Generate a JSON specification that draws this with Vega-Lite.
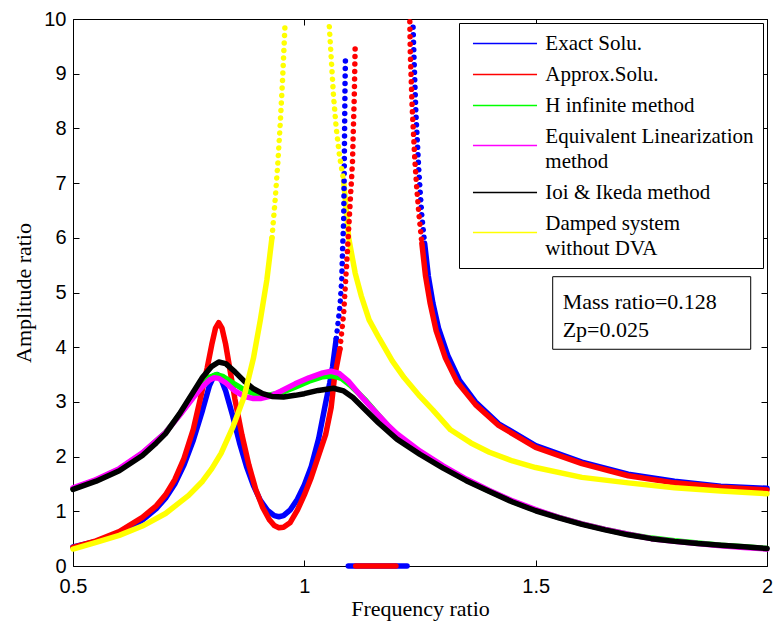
{
  "$schema": "https://vega.github.io/schema/vega-lite/v6.json",
  "width": 694,
  "height": 547,
  "autosize": "none",
  "padding": {"left": 73, "top": 19, "right": 6, "bottom": 61},
  "background": "white",
  "config": {
    "view": {"stroke": "black", "strokeWidth": 1},
    "axis": {
      "domain": false, "grid": false, "ticks": true, "tickColor": "black", "tickSize": -6, "tickWidth": 1,
      "labelFont": "Liberation Sans", "labelFontSize": 20, "labelColor": "black",
      "titleFont": "Liberation Serif", "titleFontSize": 22, "titleFontWeight": "normal", "titleColor": "black",
      "labelOverlap": false, "labelFlush": false, "labelBound": false
    }
  },
  "datasets": {
    "curves": [
      {"s":"Exact Solu.","p":"a","x":0.5,"y":0.35},{"s":"Exact Solu.","p":"a","x":0.55,"y":0.45},{"s":"Exact Solu.","p":"a","x":0.6,"y":0.6},{"s":"Exact Solu.","p":"a","x":0.65,"y":0.84},{"s":"Exact Solu.","p":"a","x":0.68,"y":1.05},{"s":"Exact Solu.","p":"a","x":0.7,"y":1.24},{"s":"Exact Solu.","p":"a","x":0.72,"y":1.5},{"s":"Exact Solu.","p":"a","x":0.74,"y":1.85},{"s":"Exact Solu.","p":"a","x":0.76,"y":2.3},{"s":"Exact Solu.","p":"a","x":0.78,"y":2.85},{"s":"Exact Solu.","p":"a","x":0.795,"y":3.3},{"s":"Exact Solu.","p":"a","x":0.805,"y":3.48},{"s":"Exact Solu.","p":"a","x":0.812,"y":3.5},{"s":"Exact Solu.","p":"a","x":0.82,"y":3.42},{"s":"Exact Solu.","p":"a","x":0.83,"y":3.2},{"s":"Exact Solu.","p":"a","x":0.845,"y":2.75},{"s":"Exact Solu.","p":"a","x":0.86,"y":2.25},{"s":"Exact Solu.","p":"a","x":0.875,"y":1.82},{"s":"Exact Solu.","p":"a","x":0.89,"y":1.47},{"s":"Exact Solu.","p":"a","x":0.905,"y":1.2},{"s":"Exact Solu.","p":"a","x":0.92,"y":1.02},{"s":"Exact Solu.","p":"a","x":0.935,"y":0.92},{"s":"Exact Solu.","p":"a","x":0.945,"y":0.9},{"s":"Exact Solu.","p":"a","x":0.955,"y":0.92},{"s":"Exact Solu.","p":"a","x":0.969,"y":1.02},{"s":"Exact Solu.","p":"a","x":0.985,"y":1.22},{"s":"Exact Solu.","p":"a","x":1.0,"y":1.48},{"s":"Exact Solu.","p":"a","x":1.015,"y":1.82},{"s":"Exact Solu.","p":"a","x":1.031,"y":2.33},{"s":"Exact Solu.","p":"a","x":1.046,"y":2.98},{"s":"Exact Solu.","p":"a","x":1.055,"y":3.35},{"s":"Exact Solu.","p":"a","x":1.061,"y":3.64},{"s":"Exact Solu.","p":"a","x":1.069,"y":4.16},
      {"s":"Exact Solu.","p":"b","x":1.069,"y":4.16},{"s":"Exact Solu.","p":"b","x":1.077,"y":4.75},{"s":"Exact Solu.","p":"b","x":1.081,"y":5.27},{"s":"Exact Solu.","p":"b","x":1.083,"y":5.86},{"s":"Exact Solu.","p":"b","x":1.085,"y":6.3},{"s":"Exact Solu.","p":"b","x":1.086,"y":7.0},{"s":"Exact Solu.","p":"b","x":1.087,"y":7.95},{"s":"Exact Solu.","p":"b","x":1.088,"y":8.83},{"s":"Exact Solu.","p":"b","x":1.089,"y":9.35},
      {"s":"Exact Solu.","p":"c","x":1.095,"y":0},{"s":"Exact Solu.","p":"c","x":1.222,"y":0},
      {"s":"Exact Solu.","p":"d","x":1.235,"y":9.85},{"s":"Exact Solu.","p":"d","x":1.237,"y":9.3},{"s":"Exact Solu.","p":"d","x":1.239,"y":8.8},{"s":"Exact Solu.","p":"d","x":1.241,"y":8.3},{"s":"Exact Solu.","p":"d","x":1.244,"y":7.8},{"s":"Exact Solu.","p":"d","x":1.247,"y":7.3},{"s":"Exact Solu.","p":"d","x":1.25,"y":6.9},{"s":"Exact Solu.","p":"d","x":1.254,"y":6.4},{"s":"Exact Solu.","p":"d","x":1.26,"y":5.9},
      {"s":"Exact Solu.","p":"e","x":1.26,"y":5.9},{"s":"Exact Solu.","p":"e","x":1.268,"y":5.3},{"s":"Exact Solu.","p":"e","x":1.278,"y":4.8},{"s":"Exact Solu.","p":"e","x":1.29,"y":4.35},{"s":"Exact Solu.","p":"e","x":1.31,"y":3.85},{"s":"Exact Solu.","p":"e","x":1.335,"y":3.4},{"s":"Exact Solu.","p":"e","x":1.37,"y":3.0},{"s":"Exact Solu.","p":"e","x":1.42,"y":2.6},{"s":"Exact Solu.","p":"e","x":1.5,"y":2.2},{"s":"Exact Solu.","p":"e","x":1.6,"y":1.9},{"s":"Exact Solu.","p":"e","x":1.7,"y":1.68},{"s":"Exact Solu.","p":"e","x":1.8,"y":1.55},{"s":"Exact Solu.","p":"e","x":1.9,"y":1.46},{"s":"Exact Solu.","p":"e","x":2.0,"y":1.42},

      {"s":"Approx.Solu.","p":"a","x":0.5,"y":0.34},{"s":"Approx.Solu.","p":"a","x":0.55,"y":0.46},{"s":"Approx.Solu.","p":"a","x":0.6,"y":0.63},{"s":"Approx.Solu.","p":"a","x":0.65,"y":0.89},{"s":"Approx.Solu.","p":"a","x":0.68,"y":1.1},{"s":"Approx.Solu.","p":"a","x":0.7,"y":1.3},{"s":"Approx.Solu.","p":"a","x":0.72,"y":1.58},{"s":"Approx.Solu.","p":"a","x":0.74,"y":1.97},{"s":"Approx.Solu.","p":"a","x":0.76,"y":2.5},{"s":"Approx.Solu.","p":"a","x":0.775,"y":3.05},{"s":"Approx.Solu.","p":"a","x":0.79,"y":3.62},{"s":"Approx.Solu.","p":"a","x":0.8,"y":4.05},{"s":"Approx.Solu.","p":"a","x":0.808,"y":4.35},{"s":"Approx.Solu.","p":"a","x":0.815,"y":4.45},{"s":"Approx.Solu.","p":"a","x":0.822,"y":4.35},{"s":"Approx.Solu.","p":"a","x":0.83,"y":4.05},{"s":"Approx.Solu.","p":"a","x":0.84,"y":3.55},{"s":"Approx.Solu.","p":"a","x":0.85,"y":3.05},{"s":"Approx.Solu.","p":"a","x":0.865,"y":2.4},{"s":"Approx.Solu.","p":"a","x":0.88,"y":1.85},{"s":"Approx.Solu.","p":"a","x":0.895,"y":1.4},{"s":"Approx.Solu.","p":"a","x":0.91,"y":1.07},{"s":"Approx.Solu.","p":"a","x":0.925,"y":0.84},{"s":"Approx.Solu.","p":"a","x":0.935,"y":0.74},{"s":"Approx.Solu.","p":"a","x":0.945,"y":0.7},{"s":"Approx.Solu.","p":"a","x":0.955,"y":0.71},{"s":"Approx.Solu.","p":"a","x":0.969,"y":0.79},{"s":"Approx.Solu.","p":"a","x":0.985,"y":1.02},{"s":"Approx.Solu.","p":"a","x":1.0,"y":1.3},{"s":"Approx.Solu.","p":"a","x":1.015,"y":1.62},{"s":"Approx.Solu.","p":"a","x":1.03,"y":2.0},{"s":"Approx.Solu.","p":"a","x":1.046,"y":2.4},{"s":"Approx.Solu.","p":"a","x":1.058,"y":2.9},{"s":"Approx.Solu.","p":"a","x":1.065,"y":3.44},{"s":"Approx.Solu.","p":"a","x":1.077,"y":3.97},
      {"s":"Approx.Solu.","p":"b","x":1.077,"y":3.97},{"s":"Approx.Solu.","p":"b","x":1.085,"y":4.61},{"s":"Approx.Solu.","p":"b","x":1.092,"y":5.59},{"s":"Approx.Solu.","p":"b","x":1.099,"y":6.64},{"s":"Approx.Solu.","p":"b","x":1.104,"y":7.36},{"s":"Approx.Solu.","p":"b","x":1.106,"y":8.0},{"s":"Approx.Solu.","p":"b","x":1.108,"y":8.6},{"s":"Approx.Solu.","p":"b","x":1.109,"y":9.09},{"s":"Approx.Solu.","p":"b","x":1.11,"y":9.56},
      {"s":"Approx.Solu.","p":"c","x":1.111,"y":0},{"s":"Approx.Solu.","p":"c","x":1.198,"y":0},
      {"s":"Approx.Solu.","p":"d","x":1.228,"y":9.95},{"s":"Approx.Solu.","p":"d","x":1.229,"y":9.4},{"s":"Approx.Solu.","p":"d","x":1.231,"y":8.9},{"s":"Approx.Solu.","p":"d","x":1.233,"y":8.4},{"s":"Approx.Solu.","p":"d","x":1.236,"y":7.9},{"s":"Approx.Solu.","p":"d","x":1.239,"y":7.4},{"s":"Approx.Solu.","p":"d","x":1.243,"y":6.9},{"s":"Approx.Solu.","p":"d","x":1.248,"y":6.4},{"s":"Approx.Solu.","p":"d","x":1.254,"y":5.9},
      {"s":"Approx.Solu.","p":"e","x":1.254,"y":5.9},{"s":"Approx.Solu.","p":"e","x":1.262,"y":5.3},{"s":"Approx.Solu.","p":"e","x":1.272,"y":4.8},{"s":"Approx.Solu.","p":"e","x":1.285,"y":4.3},{"s":"Approx.Solu.","p":"e","x":1.305,"y":3.8},{"s":"Approx.Solu.","p":"e","x":1.33,"y":3.37},{"s":"Approx.Solu.","p":"e","x":1.37,"y":2.95},{"s":"Approx.Solu.","p":"e","x":1.42,"y":2.57},{"s":"Approx.Solu.","p":"e","x":1.5,"y":2.17},{"s":"Approx.Solu.","p":"e","x":1.6,"y":1.87},{"s":"Approx.Solu.","p":"e","x":1.7,"y":1.65},{"s":"Approx.Solu.","p":"e","x":1.8,"y":1.52},{"s":"Approx.Solu.","p":"e","x":1.9,"y":1.44},{"s":"Approx.Solu.","p":"e","x":2.0,"y":1.39},

      {"s":"H infinite method","p":"a","x":0.5,"y":1.41},{"s":"H infinite method","p":"a","x":0.55,"y":1.57},{"s":"H infinite method","p":"a","x":0.6,"y":1.77},{"s":"H infinite method","p":"a","x":0.65,"y":2.06},{"s":"H infinite method","p":"a","x":0.7,"y":2.44},{"s":"H infinite method","p":"a","x":0.73,"y":2.76},{"s":"H infinite method","p":"a","x":0.76,"y":3.1},{"s":"H infinite method","p":"a","x":0.78,"y":3.31},{"s":"H infinite method","p":"a","x":0.795,"y":3.45},{"s":"H infinite method","p":"a","x":0.81,"y":3.5},{"s":"H infinite method","p":"a","x":0.825,"y":3.46},{"s":"H infinite method","p":"a","x":0.845,"y":3.35},{"s":"H infinite method","p":"a","x":0.87,"y":3.22},{"s":"H infinite method","p":"a","x":0.895,"y":3.14},{"s":"H infinite method","p":"a","x":0.92,"y":3.12},{"s":"H infinite method","p":"a","x":0.95,"y":3.17},{"s":"H infinite method","p":"a","x":0.98,"y":3.27},{"s":"H infinite method","p":"a","x":1.01,"y":3.38},{"s":"H infinite method","p":"a","x":1.04,"y":3.46},{"s":"H infinite method","p":"a","x":1.06,"y":3.48},{"s":"H infinite method","p":"a","x":1.08,"y":3.43},{"s":"H infinite method","p":"a","x":1.1,"y":3.3},{"s":"H infinite method","p":"a","x":1.13,"y":3.05},{"s":"H infinite method","p":"a","x":1.16,"y":2.76},{"s":"H infinite method","p":"a","x":1.2,"y":2.38},{"s":"H infinite method","p":"a","x":1.25,"y":2.07},{"s":"H infinite method","p":"a","x":1.3,"y":1.81},{"s":"H infinite method","p":"a","x":1.35,"y":1.57},{"s":"H infinite method","p":"a","x":1.4,"y":1.37},{"s":"H infinite method","p":"a","x":1.45,"y":1.18},{"s":"H infinite method","p":"a","x":1.5,"y":1.02},{"s":"H infinite method","p":"a","x":1.55,"y":0.89},{"s":"H infinite method","p":"a","x":1.6,"y":0.77},{"s":"H infinite method","p":"a","x":1.65,"y":0.67},{"s":"H infinite method","p":"a","x":1.7,"y":0.58},{"s":"H infinite method","p":"a","x":1.75,"y":0.51},{"s":"H infinite method","p":"a","x":1.8,"y":0.46},{"s":"H infinite method","p":"a","x":1.85,"y":0.42},{"s":"H infinite method","p":"a","x":1.9,"y":0.38},{"s":"H infinite method","p":"a","x":1.95,"y":0.35},{"s":"H infinite method","p":"a","x":2.0,"y":0.32},

      {"s":"Equivalent Linearization method","p":"a","x":0.5,"y":1.43},{"s":"Equivalent Linearization method","p":"a","x":0.55,"y":1.58},{"s":"Equivalent Linearization method","p":"a","x":0.6,"y":1.78},{"s":"Equivalent Linearization method","p":"a","x":0.65,"y":2.07},{"s":"Equivalent Linearization method","p":"a","x":0.7,"y":2.44},{"s":"Equivalent Linearization method","p":"a","x":0.73,"y":2.75},{"s":"Equivalent Linearization method","p":"a","x":0.76,"y":3.08},{"s":"Equivalent Linearization method","p":"a","x":0.78,"y":3.28},{"s":"Equivalent Linearization method","p":"a","x":0.795,"y":3.4},{"s":"Equivalent Linearization method","p":"a","x":0.805,"y":3.44},{"s":"Equivalent Linearization method","p":"a","x":0.815,"y":3.43},{"s":"Equivalent Linearization method","p":"a","x":0.83,"y":3.35},{"s":"Equivalent Linearization method","p":"a","x":0.85,"y":3.2},{"s":"Equivalent Linearization method","p":"a","x":0.87,"y":3.1},{"s":"Equivalent Linearization method","p":"a","x":0.89,"y":3.06},{"s":"Equivalent Linearization method","p":"a","x":0.905,"y":3.06},{"s":"Equivalent Linearization method","p":"a","x":0.925,"y":3.1},{"s":"Equivalent Linearization method","p":"a","x":0.95,"y":3.2},{"s":"Equivalent Linearization method","p":"a","x":0.98,"y":3.33},{"s":"Equivalent Linearization method","p":"a","x":1.01,"y":3.44},{"s":"Equivalent Linearization method","p":"a","x":1.04,"y":3.53},{"s":"Equivalent Linearization method","p":"a","x":1.058,"y":3.56},{"s":"Equivalent Linearization method","p":"a","x":1.075,"y":3.52},{"s":"Equivalent Linearization method","p":"a","x":1.095,"y":3.38},{"s":"Equivalent Linearization method","p":"a","x":1.12,"y":3.13},{"s":"Equivalent Linearization method","p":"a","x":1.15,"y":2.85},{"s":"Equivalent Linearization method","p":"a","x":1.18,"y":2.58},{"s":"Equivalent Linearization method","p":"a","x":1.2,"y":2.42},{"s":"Equivalent Linearization method","p":"a","x":1.25,"y":2.1},{"s":"Equivalent Linearization method","p":"a","x":1.3,"y":1.83},{"s":"Equivalent Linearization method","p":"a","x":1.35,"y":1.59},{"s":"Equivalent Linearization method","p":"a","x":1.4,"y":1.38},{"s":"Equivalent Linearization method","p":"a","x":1.45,"y":1.19},{"s":"Equivalent Linearization method","p":"a","x":1.5,"y":1.03},{"s":"Equivalent Linearization method","p":"a","x":1.55,"y":0.89},{"s":"Equivalent Linearization method","p":"a","x":1.6,"y":0.77},{"s":"Equivalent Linearization method","p":"a","x":1.65,"y":0.67},{"s":"Equivalent Linearization method","p":"a","x":1.7,"y":0.58},{"s":"Equivalent Linearization method","p":"a","x":1.75,"y":0.5},{"s":"Equivalent Linearization method","p":"a","x":1.8,"y":0.45},{"s":"Equivalent Linearization method","p":"a","x":1.85,"y":0.41},{"s":"Equivalent Linearization method","p":"a","x":1.9,"y":0.37},{"s":"Equivalent Linearization method","p":"a","x":1.95,"y":0.34},{"s":"Equivalent Linearization method","p":"a","x":2.0,"y":0.31},

      {"s":"Ioi & Ikeda method","p":"a","x":0.5,"y":1.4},{"s":"Ioi & Ikeda method","p":"a","x":0.55,"y":1.55},{"s":"Ioi & Ikeda method","p":"a","x":0.6,"y":1.74},{"s":"Ioi & Ikeda method","p":"a","x":0.65,"y":2.02},{"s":"Ioi & Ikeda method","p":"a","x":0.68,"y":2.25},{"s":"Ioi & Ikeda method","p":"a","x":0.7,"y":2.42},{"s":"Ioi & Ikeda method","p":"a","x":0.73,"y":2.78},{"s":"Ioi & Ikeda method","p":"a","x":0.76,"y":3.18},{"s":"Ioi & Ikeda method","p":"a","x":0.78,"y":3.45},{"s":"Ioi & Ikeda method","p":"a","x":0.8,"y":3.65},{"s":"Ioi & Ikeda method","p":"a","x":0.815,"y":3.73},{"s":"Ioi & Ikeda method","p":"a","x":0.83,"y":3.7},{"s":"Ioi & Ikeda method","p":"a","x":0.85,"y":3.55},{"s":"Ioi & Ikeda method","p":"a","x":0.87,"y":3.38},{"s":"Ioi & Ikeda method","p":"a","x":0.89,"y":3.24},{"s":"Ioi & Ikeda method","p":"a","x":0.91,"y":3.15},{"s":"Ioi & Ikeda method","p":"a","x":0.93,"y":3.1},{"s":"Ioi & Ikeda method","p":"a","x":0.955,"y":3.09},{"s":"Ioi & Ikeda method","p":"a","x":0.98,"y":3.12},{"s":"Ioi & Ikeda method","p":"a","x":1.0,"y":3.15},{"s":"Ioi & Ikeda method","p":"a","x":1.03,"y":3.21},{"s":"Ioi & Ikeda method","p":"a","x":1.063,"y":3.25},{"s":"Ioi & Ikeda method","p":"a","x":1.085,"y":3.2},{"s":"Ioi & Ikeda method","p":"a","x":1.105,"y":3.08},{"s":"Ioi & Ikeda method","p":"a","x":1.13,"y":2.87},{"s":"Ioi & Ikeda method","p":"a","x":1.16,"y":2.62},{"s":"Ioi & Ikeda method","p":"a","x":1.2,"y":2.32},{"s":"Ioi & Ikeda method","p":"a","x":1.25,"y":2.04},{"s":"Ioi & Ikeda method","p":"a","x":1.3,"y":1.79},{"s":"Ioi & Ikeda method","p":"a","x":1.35,"y":1.56},{"s":"Ioi & Ikeda method","p":"a","x":1.4,"y":1.36},{"s":"Ioi & Ikeda method","p":"a","x":1.45,"y":1.17},{"s":"Ioi & Ikeda method","p":"a","x":1.5,"y":1.01},{"s":"Ioi & Ikeda method","p":"a","x":1.55,"y":0.88},{"s":"Ioi & Ikeda method","p":"a","x":1.6,"y":0.76},{"s":"Ioi & Ikeda method","p":"a","x":1.65,"y":0.66},{"s":"Ioi & Ikeda method","p":"a","x":1.7,"y":0.57},{"s":"Ioi & Ikeda method","p":"a","x":1.75,"y":0.5},{"s":"Ioi & Ikeda method","p":"a","x":1.8,"y":0.45},{"s":"Ioi & Ikeda method","p":"a","x":1.85,"y":0.41},{"s":"Ioi & Ikeda method","p":"a","x":1.9,"y":0.38},{"s":"Ioi & Ikeda method","p":"a","x":1.95,"y":0.35},{"s":"Ioi & Ikeda method","p":"a","x":2.0,"y":0.32},

      {"s":"Damped system without DVA","p":"a","x":0.5,"y":0.31},{"s":"Damped system without DVA","p":"a","x":0.55,"y":0.43},{"s":"Damped system without DVA","p":"a","x":0.6,"y":0.56},{"s":"Damped system without DVA","p":"a","x":0.65,"y":0.73},{"s":"Damped system without DVA","p":"a","x":0.7,"y":0.96},{"s":"Damped system without DVA","p":"a","x":0.75,"y":1.29},{"s":"Damped system without DVA","p":"a","x":0.78,"y":1.55},{"s":"Damped system without DVA","p":"a","x":0.8,"y":1.78},{"s":"Damped system without DVA","p":"a","x":0.82,"y":2.06},{"s":"Damped system without DVA","p":"a","x":0.846,"y":2.55},{"s":"Damped system without DVA","p":"a","x":0.87,"y":3.1},{"s":"Damped system without DVA","p":"a","x":0.89,"y":3.8},{"s":"Damped system without DVA","p":"a","x":0.905,"y":4.5},{"s":"Damped system without DVA","p":"a","x":0.919,"y":5.23},{"s":"Damped system without DVA","p":"a","x":0.93,"y":6.0},
      {"s":"Damped system without DVA","p":"b","x":0.93,"y":6.0},{"s":"Damped system without DVA","p":"b","x":0.937,"y":6.7},{"s":"Damped system without DVA","p":"b","x":0.943,"y":7.4},{"s":"Damped system without DVA","p":"b","x":0.948,"y":8.1},{"s":"Damped system without DVA","p":"b","x":0.953,"y":8.9},{"s":"Damped system without DVA","p":"b","x":0.958,"y":9.85},
      {"s":"Damped system without DVA","p":"d","x":1.054,"y":9.86},{"s":"Damped system without DVA","p":"d","x":1.058,"y":9.3},{"s":"Damped system without DVA","p":"d","x":1.063,"y":8.6},{"s":"Damped system without DVA","p":"d","x":1.069,"y":8.0},{"s":"Damped system without DVA","p":"d","x":1.076,"y":7.5},{"s":"Damped system without DVA","p":"d","x":1.085,"y":7.04},
      {"s":"Damped system without DVA","p":"e","x":1.085,"y":7.04},{"s":"Damped system without DVA","p":"e","x":1.096,"y":5.99},{"s":"Damped system without DVA","p":"e","x":1.11,"y":5.35},{"s":"Damped system without DVA","p":"e","x":1.123,"y":4.94},{"s":"Damped system without DVA","p":"e","x":1.14,"y":4.5},{"s":"Damped system without DVA","p":"e","x":1.162,"y":4.16},{"s":"Damped system without DVA","p":"e","x":1.19,"y":3.75},{"s":"Damped system without DVA","p":"e","x":1.216,"y":3.44},{"s":"Damped system without DVA","p":"e","x":1.25,"y":3.1},{"s":"Damped system without DVA","p":"e","x":1.278,"y":2.85},{"s":"Damped system without DVA","p":"e","x":1.316,"y":2.49},{"s":"Damped system without DVA","p":"e","x":1.36,"y":2.25},{"s":"Damped system without DVA","p":"e","x":1.4,"y":2.08},{"s":"Damped system without DVA","p":"e","x":1.45,"y":1.92},{"s":"Damped system without DVA","p":"e","x":1.5,"y":1.8},{"s":"Damped system without DVA","p":"e","x":1.6,"y":1.62},{"s":"Damped system without DVA","p":"e","x":1.7,"y":1.52},{"s":"Damped system without DVA","p":"e","x":1.8,"y":1.43},{"s":"Damped system without DVA","p":"e","x":1.9,"y":1.37},{"s":"Damped system without DVA","p":"e","x":2.0,"y":1.32}
    ]
  },
  "layer": [
    {
      "data": {"name": "curves"},
      "transform": [{"filter": "datum.p == 'a' || datum.p == 'c' || datum.p == 'e'"}],
      "mark": {"type": "line", "strokeWidth": 5.5, "strokeCap": "round", "strokeJoin": "round"},
      "encoding": {
        "x": {"field": "x", "type": "quantitative", "scale": {"domain": [0.5, 2], "nice": false, "zero": false},
              "axis": {"orient": "bottom", "values": [0.5, 1, 1.5, 2], "format": "~g", "title": "Frequency ratio", "labelPadding": 16, "titlePadding": 2}},
        "y": {"field": "y", "type": "quantitative", "scale": {"domain": [0, 10], "nice": false, "zero": true},
              "axis": {"orient": "left", "values": [0,1,2,3,4,5,6,7,8,9,10], "format": "d", "title": "Amplitude ratio", "labelPadding": 13, "titlePadding": 8}},
        "color": {
          "field": "s", "type": "nominal",
          "scale": {
            "domain": ["Exact Solu.", "Approx.Solu.", "H infinite method", "Equivalent Linearization method", "Ioi & Ikeda method", "Damped system without DVA"],
            "range": ["#0000ff", "#ff0000", "#00ff00", "#ff00ff", "#000000", "#ffff00"]
          },
          "legend": {
            "orient": "none", "legendX": 386, "legendY": 4, "title": null,
            "padding": 9, "symbolOffset": 25.5, "symbolType": "M-3.05,0H3.05", "symbolSize": 441, "symbolStrokeWidth": 1.5,
            "labelOffset": 28.8, "labelFont": "Liberation Serif", "labelFontSize": 21, "labelColor": "black", "labelLimit": 400,
            "rowPadding": 9, "strokeColor": "black", "fillColor": "white",
            "labelExpr": "datum.label == 'Equivalent Linearization method' ? ['Equivalent Linearization', 'method'] : datum.label == 'Damped system without DVA' ? ['Damped system', 'without DVA'] : datum.label",
            "encode": {
              "labels": {"update": {"lineHeight": {"value": 25}, "dy": {"signal": "indexof(['Equivalent Linearization method', 'Damped system without DVA'], datum.label) >= 0 ? -9 : 0"}}},
              "symbols": {"update": {"strokeWidth": {"value": 1.5}, "fill": {"value": "transparent"}}}
            }
          }
        },
        "detail": {"field": "p"}
      }
    },
    {
      "data": {"name": "curves"},
      "transform": [{"filter": "datum.p == 'b' || datum.p == 'd'"}],
      "mark": {"type": "line", "strokeWidth": 5.5, "strokeCap": "round", "strokeDash": [0.01, 7.5]},
      "encoding": {
        "x": {"field": "x", "type": "quantitative", "axis": null},
        "y": {"field": "y", "type": "quantitative", "axis": null},
        "color": {"field": "s", "type": "nominal", "legend": null},
        "detail": {"field": "p"}
      }
    },
    {
      "data": {"values": [{}]},
      "mark": {"type": "rect", "fill": "white", "stroke": "black", "strokeWidth": 1},
      "encoding": {
        "x": {"datum": 1.5368, "type": "quantitative", "axis": {"orient": "top", "values": [0.5, 1, 1.5, 2], "labels": false, "title": null}},
        "x2": {"datum": 1.9648},
        "y": {"datum": 5.289, "type": "quantitative", "axis": {"orient": "right", "values": [0,1,2,3,4,5,6,7,8,9,10], "labels": false, "title": null}},
        "y2": {"datum": 3.962}
      }
    },
    {
      "data": {"values": [{}]},
      "mark": {"type": "text", "align": "left", "baseline": "middle", "font": "Liberation Serif", "fontSize": 22, "lineHeight": 28, "color": "black"},
      "encoding": {
        "x": {"datum": 1.5584, "type": "quantitative", "axis": null},
        "y": {"datum": 4.832, "type": "quantitative", "axis": null},
        "text": {"value": ["Mass ratio=0.128", "Zp=0.025"]}
      }
    }
  ],
  "resolve": {"axis": {"x": "independent", "y": "independent"}}
}
